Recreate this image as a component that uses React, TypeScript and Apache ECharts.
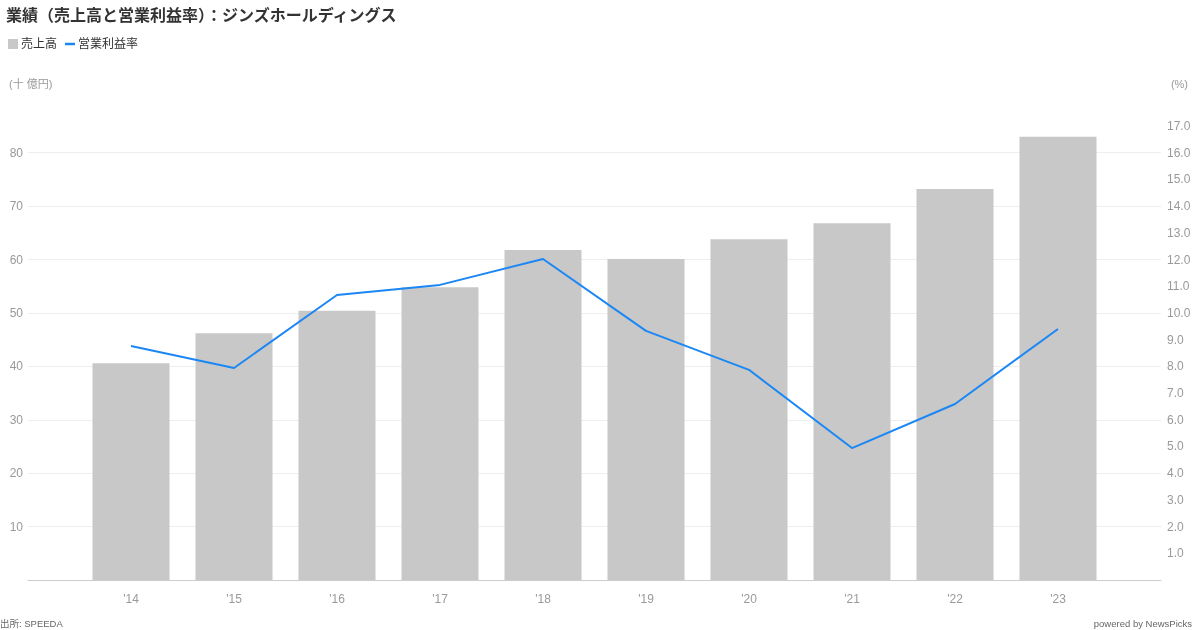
import React, { useEffect, useRef } from "react";
import * as echarts from "echarts";

const categories = ["", "'14", "'15", "'16", "'17", "'18", "'19", "'20", "'21", "'22", "'23", ""];
const sales = [null, 40.6, 46.2, 50.4, 54.8, 61.8, 60.1, 63.8, 66.8, 73.2, 83.0, null];
const margin = [null, 8.76, 7.94, 10.67, 11.05, 12.02, 9.33, 7.87, 4.94, 6.59, 9.4, null];

const FONT = "'Liberation Sans', Arial, 'Noto Sans CJK JP', sans-serif";

export default function App() {
  const ref = useRef<HTMLDivElement>(null);
  useEffect(() => {
    const chart = echarts.init(ref.current!, null, { renderer: "svg" });
    const gridColors = ["#eeeeee", "#eeeeee", "#eeeeee", "#eeeeee", "#eeeeee", "#eeeeee", "#eeeeee", "#eeeeee", "#eeeeee", "rgba(0,0,0,0)"];
    chart.setOption({
      animation: false,
      textStyle: { fontFamily: FONT },
      title: {
        text: "業績（売上高と営業利益率）：ジンズホールディングス",
        left: 6,
        top: 7,
        padding: 0,
        textStyle: { fontSize: 16, fontWeight: "bold", color: "#333", fontFamily: FONT },
      },
      legend: {
        left: 8,
        top: 38,
        padding: 0,
        itemWidth: 10,
        itemHeight: 10,
        itemGap: 8,
        textStyle: { fontSize: 12, color: "#333", fontFamily: FONT, padding: [0, 0, 0, -2] },
        data: [
          { name: "売上高", icon: "rect" },
          { name: "営業利益率", icon: "path://M0 0 H10 V2.5 H0 Z" },
        ],
      },
      graphic: [
        { type: "text", left: 9, top: 78, style: { text: "(十 億円)", fontSize: 11, fill: "#999", fontFamily: FONT } },
        { type: "text", right: 12, top: 78, style: { text: "(%)", fontSize: 11, fill: "#999", fontFamily: FONT } },
        { type: "text", left: 0, top: 619, style: { text: "出所: SPEEDA", fontSize: 9.5, fill: "#666", fontFamily: FONT } },
        { type: "text", right: 8, top: 619, style: { text: "powered by NewsPicks", fontSize: 9.5, fill: "#666", fontFamily: FONT } },
      ],
      grid: { left: 28, right: 39, top: 126, bottom: 50, containLabel: false },
      xAxis: {
        type: "category",
        data: categories,
        boundaryGap: false,
        axisLine: { lineStyle: { color: "#cccccc", width: 1 } },
        axisTick: { show: false },
        axisLabel: { color: "#999", fontSize: 12, margin: 13, fontFamily: FONT },
      },
      yAxis: [
        {
          type: "value",
          min: 0,
          max: 85,
          interval: 10,
          axisLine: { show: false },
          axisTick: { show: false },
          axisLabel: { color: "#999", fontSize: 12, margin: 5, showMinLabel: false, showMaxLabel: false, fontFamily: FONT },
          splitLine: { show: true, lineStyle: { color: gridColors, width: 1 } },
        },
        {
          type: "value",
          min: 0,
          max: 17,
          interval: 1,
          axisLine: { show: false },
          axisTick: { show: false },
          axisLabel: {
            color: "#999",
            fontSize: 12,
            margin: 6,
            showMinLabel: false,
            fontFamily: FONT,
            formatter: (v: number) => v.toFixed(1),
          },
          splitLine: { show: false },
        },
      ],
      series: [
        {
          name: "売上高",
          type: "bar",
          data: sales,
          barWidth: 77,
          itemStyle: { color: "#c8c8c8" },
          yAxisIndex: 0,
        },
        {
          name: "営業利益率",
          type: "line",
          data: margin,
          yAxisIndex: 1,
          symbol: "none",
          showSymbol: false,
          connectNulls: false,
          lineStyle: { color: "#1a87f5", width: 2 },
          itemStyle: { color: "#1a87f5" },
        },
      ],
    });
    return () => chart.dispose();
  }, []);
  return <div ref={ref} style={{ position: "fixed", left: 0, top: 0, width: 1200, height: 630 }} />;
}
